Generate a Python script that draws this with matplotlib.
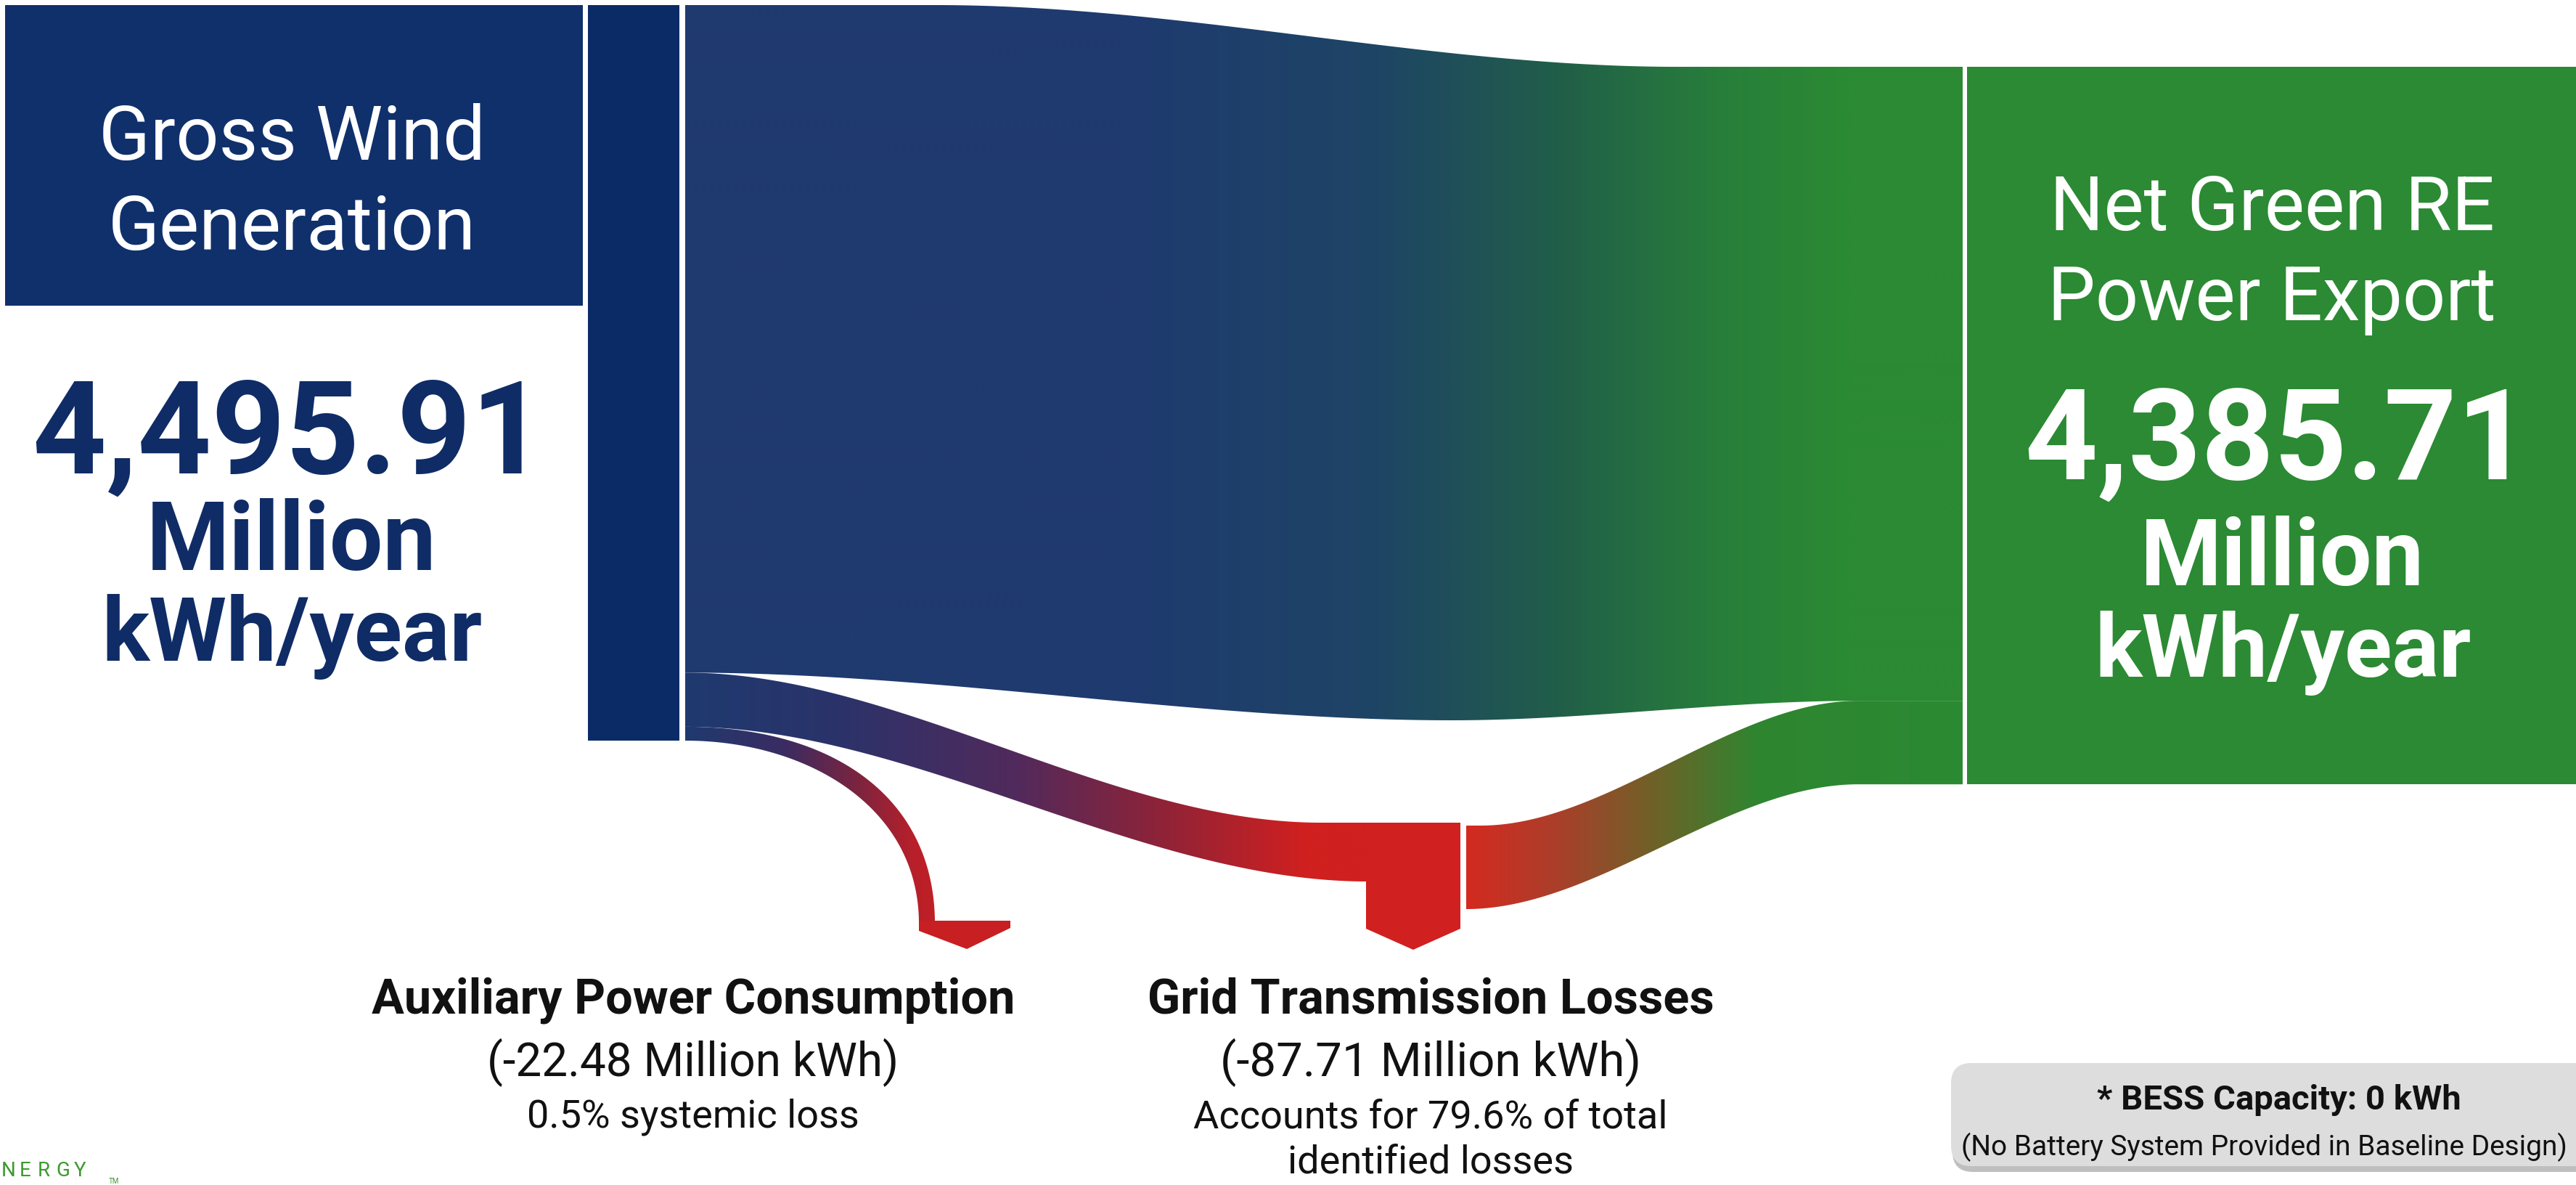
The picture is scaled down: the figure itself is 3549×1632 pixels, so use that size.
import numpy as np
import matplotlib.pyplot as plt
from matplotlib.patches import Polygon, Rectangle, FancyBboxPatch
from matplotlib.colors import LinearSegmentedColormap

# annual energy balance, million kWh
gross_mkwh = 4495.91
net_mkwh = 4385.71
loss_names = ['Auxiliary Power Consumption', 'Grid Transmission Losses']
loss_mkwh = [22.48, 87.71]
bess_kwh = 0

source_title = ['Gross Wind', 'Generation']
sink_title = ['Net Green RE', 'Power Export']

NAVY = '#0b2b67'
BOX_NAVY = '#10306c'
BAND_BLUE = '#1f3a6f'
GREEN = '#2b8a33'
RED = '#d0201f'
TEXT_NAVY = '#0f2c66'

ROBOTO = ['Roboto', 'DejaVu Sans']

W, H = 3549, 1632
fig = plt.figure(figsize=(W / 100, H / 100), dpi=100)
fig.patch.set_facecolor('white')
ax = fig.add_axes([0, 0, 1, 1])
ax.axis('off')


def ease(x, x0, x1, y0, y1):
    t = np.clip((x - x0) / (x1 - x0), 0, 1)
    return y0 + (y1 - y0) * t * t * (3 - 2 * t)


def bezier(p0, p1, p2, p3, n=200):
    t = np.linspace(0, 1, n)[:, None]
    p0, p1, p2, p3 = map(np.asarray, (p0, p1, p2, p3))
    return ((1 - t) ** 3 * p0 + 3 * (1 - t) ** 2 * t * p1
            + 3 * (1 - t) * t ** 2 * p2 + t ** 3 * p3)


def gradient_fill(verts, stops):
    patch = Polygon(verts, closed=True, facecolor='none', edgecolor='none')
    ax.add_patch(patch)
    x0, x1 = verts[:, 0].min(), verts[:, 0].max()
    y0, y1 = verts[:, 1].min(), verts[:, 1].max()
    cmap = LinearSegmentedColormap.from_list(
        'band', [((x - x0) / (x1 - x0), c) for x, c in stops])
    grad = np.linspace(0, 1, 800)[None, :]
    im = ax.imshow(grad, cmap=cmap, extent=[x0, x1, y1, y0],
                   aspect='auto', interpolation='bilinear', zorder=1)
    im.set_clip_path(patch)


def ribbon(xs, top, bottom):
    return np.vstack([np.column_stack([xs, top]),
                      np.column_stack([xs[::-1], bottom[::-1]])])


def label(x, y, s, size, color, weight='normal', ha='center'):
    ax.text(x, y, s, color=color, fontsize=size, fontweight=weight,
            family=ROBOTO, ha=ha, va='baseline', zorder=5)


# node heights follow the values; loss ribbons use a larger scale to stay visible
px_per_unit = 1013 / gross_mkwh
loss_px = 0.85
aux_mkwh, grid_mkwh = loss_mkwh

top_left = 7
bot_left = top_left + gross_mkwh * px_per_unit
top_right = 92
bot_right = top_right + net_mkwh * px_per_unit

a_bot = bot_left - (aux_mkwh + grid_mkwh) * loss_px
b_bot = a_bot + grid_mkwh * loss_px
c_join = bot_right - 115

# source label box and node bar
ax.add_patch(Rectangle((7, 7), 796, 414, facecolor=BOX_NAVY, zorder=2))
ax.add_patch(Rectangle((810, top_left), 126, bot_left - top_left,
                       facecolor=NAVY, zorder=2))

# main flow: generation -> export
xs = np.linspace(944, 2704, 700)
top = ease(xs, 1290, 2310, top_left, top_right)
bottom = np.where(xs < 2000, ease(xs, 944, 2000, a_bot, 992),
                  ease(xs, 2000, 2560, 992, c_join))
gradient_fill(ribbon(xs, top, bottom),
              [(944, BAND_BLUE), (1550, BAND_BLUE), (1900, '#1e4565'),
               (2150, '#215e49'), (2380, '#287f3a'), (2550, GREEN),
               (2704, GREEN)])

# grid loss ribbon into the loss block
xs = np.linspace(944, 1884, 400)
top = ease(xs, 944, 1820, a_bot, 1133)
bottom = ease(xs, 944, 1884, b_bot, 1214)
gradient_fill(ribbon(xs, top, bottom),
              [(944, BAND_BLUE), (1150, '#2a336a'), (1400, '#512a5c'),
               (1600, '#8e2338'), (1800, RED), (1884, RED)])
ax.add_patch(Polygon([(1882, 1133), (2012, 1133), (2012, 1279),
                      (1947, 1308), (1882, 1279)],
                     facecolor=RED, edgecolor='none', zorder=2))

# ribbon leaving the loss block towards the export node
xs = np.linspace(2020, 2704, 400)
top = ease(xs, 2040, 2560, 1137, c_join)
bottom = ease(xs, 2020, 2560, 1252, bot_right)
gradient_fill(ribbon(xs, top, bottom),
              [(2020, '#d42a20'), (2150, '#a8402a'), (2280, '#6e6228'),
               (2420, '#2f8530'), (2704, GREEN)])

# auxiliary consumption ribbon bending down into its arrow
outer = bezier((944, b_bot), (1150, b_bot), (1288, 1100), (1288, 1272))
inner = bezier((944, bot_left), (1110, bot_left), (1266, 1110), (1266, 1272))
gradient_fill(np.vstack([outer, inner[::-1]]),
              [(944, BAND_BLUE), (1080, '#3a2c62'), (1180, '#7a2440'),
               (1260, '#b8202a'), (1288, '#c01f25')])
ax.add_patch(Polygon([(1266, 1268), (1392, 1268), (1392, 1278),
                      (1332, 1307), (1266, 1282)],
                     facecolor='#c81f22', edgecolor='none', zorder=2))

# export node
ax.add_patch(Rectangle((2710, top_right), W - 2700, bot_right - top_right,
                       facecolor=GREEN, zorder=2))

# source texts
label(402, 220, source_title[0], 75, 'white')
label(402, 344, source_title[1], 75, 'white')
label(398, 652, f'{gross_mkwh:,.2f}', 128, TEXT_NAVY, 'bold')
label(402, 785, 'Million', 94, TEXT_NAVY, 'bold')
label(402, 910, 'kWh/year', 88, TEXT_NAVY, 'bold')

# export texts
label(3130, 317, sink_title[0], 75, 'white')
label(3130, 441, sink_title[1], 75, 'white')
label(3137, 661, f'{net_mkwh:,.2f}', 126, 'white', 'bold')
label(3144, 806, 'Million', 92, 'white', 'bold')
label(3146, 932, 'kWh/year', 87, 'white', 'bold')

# loss captions
total_loss = sum(loss_mkwh)
aux_lines = [
    (loss_names[0], 'bold', 48),
    (f'(-{aux_mkwh:.2f} Million kWh)', 'normal', 46),
    (f'{aux_mkwh / gross_mkwh * 100:.1f}% systemic loss', 'normal', 39),
]
grid_lines = [
    (loss_names[1], 'bold', 48),
    (f'(-{grid_mkwh:.2f} Million kWh)', 'normal', 47),
    (f'Accounts for {grid_mkwh / total_loss * 100:.1f}% of total', 'normal', 39),
    ('identified losses', 'normal', 39),
]
baselines = [1396, 1482, 1553, 1616]
for cx, lines in [(955, aux_lines), (1971, grid_lines)]:
    for (s, weight, size), y in zip(lines, baselines):
        label(cx, y, s, size, '#111111', weight)

# battery note
ax.add_patch(FancyBboxPatch((2690, 1474), 900, 140,
                            boxstyle='round,pad=0,rounding_size=28',
                            facecolor='#8c8c8c', edgecolor='none', alpha=0.55,
                            zorder=3))
ax.add_patch(FancyBboxPatch((2688, 1464), 900, 142,
                            boxstyle='round,pad=0,rounding_size=28',
                            facecolor='#dddddd', edgecolor='none', zorder=4))
label(3140, 1528, f'* BESS Capacity: {bess_kwh} kWh', 34, '#111111', 'bold')
label(2702, 1591, '(No Battery System Provided in Baseline Design)', 28,
      '#111111', ha='left')

# partial logo at the bottom-left edge
for i, ch in enumerate('NERGY'):
    ax.text(2 + i * 25, 1620, ch, color='#3c9a2e', fontsize=20,
            family=ROBOTO, ha='left', va='baseline', zorder=5)
ax.text(150, 1630, 'TM', color='#3c9a2e', fontsize=7, family=ROBOTO,
        ha='left', va='baseline', zorder=5)

ax.set_xlim(0, W)
ax.set_ylim(H, 0)
fig.savefig('out.png', dpi=100, facecolor='white')
